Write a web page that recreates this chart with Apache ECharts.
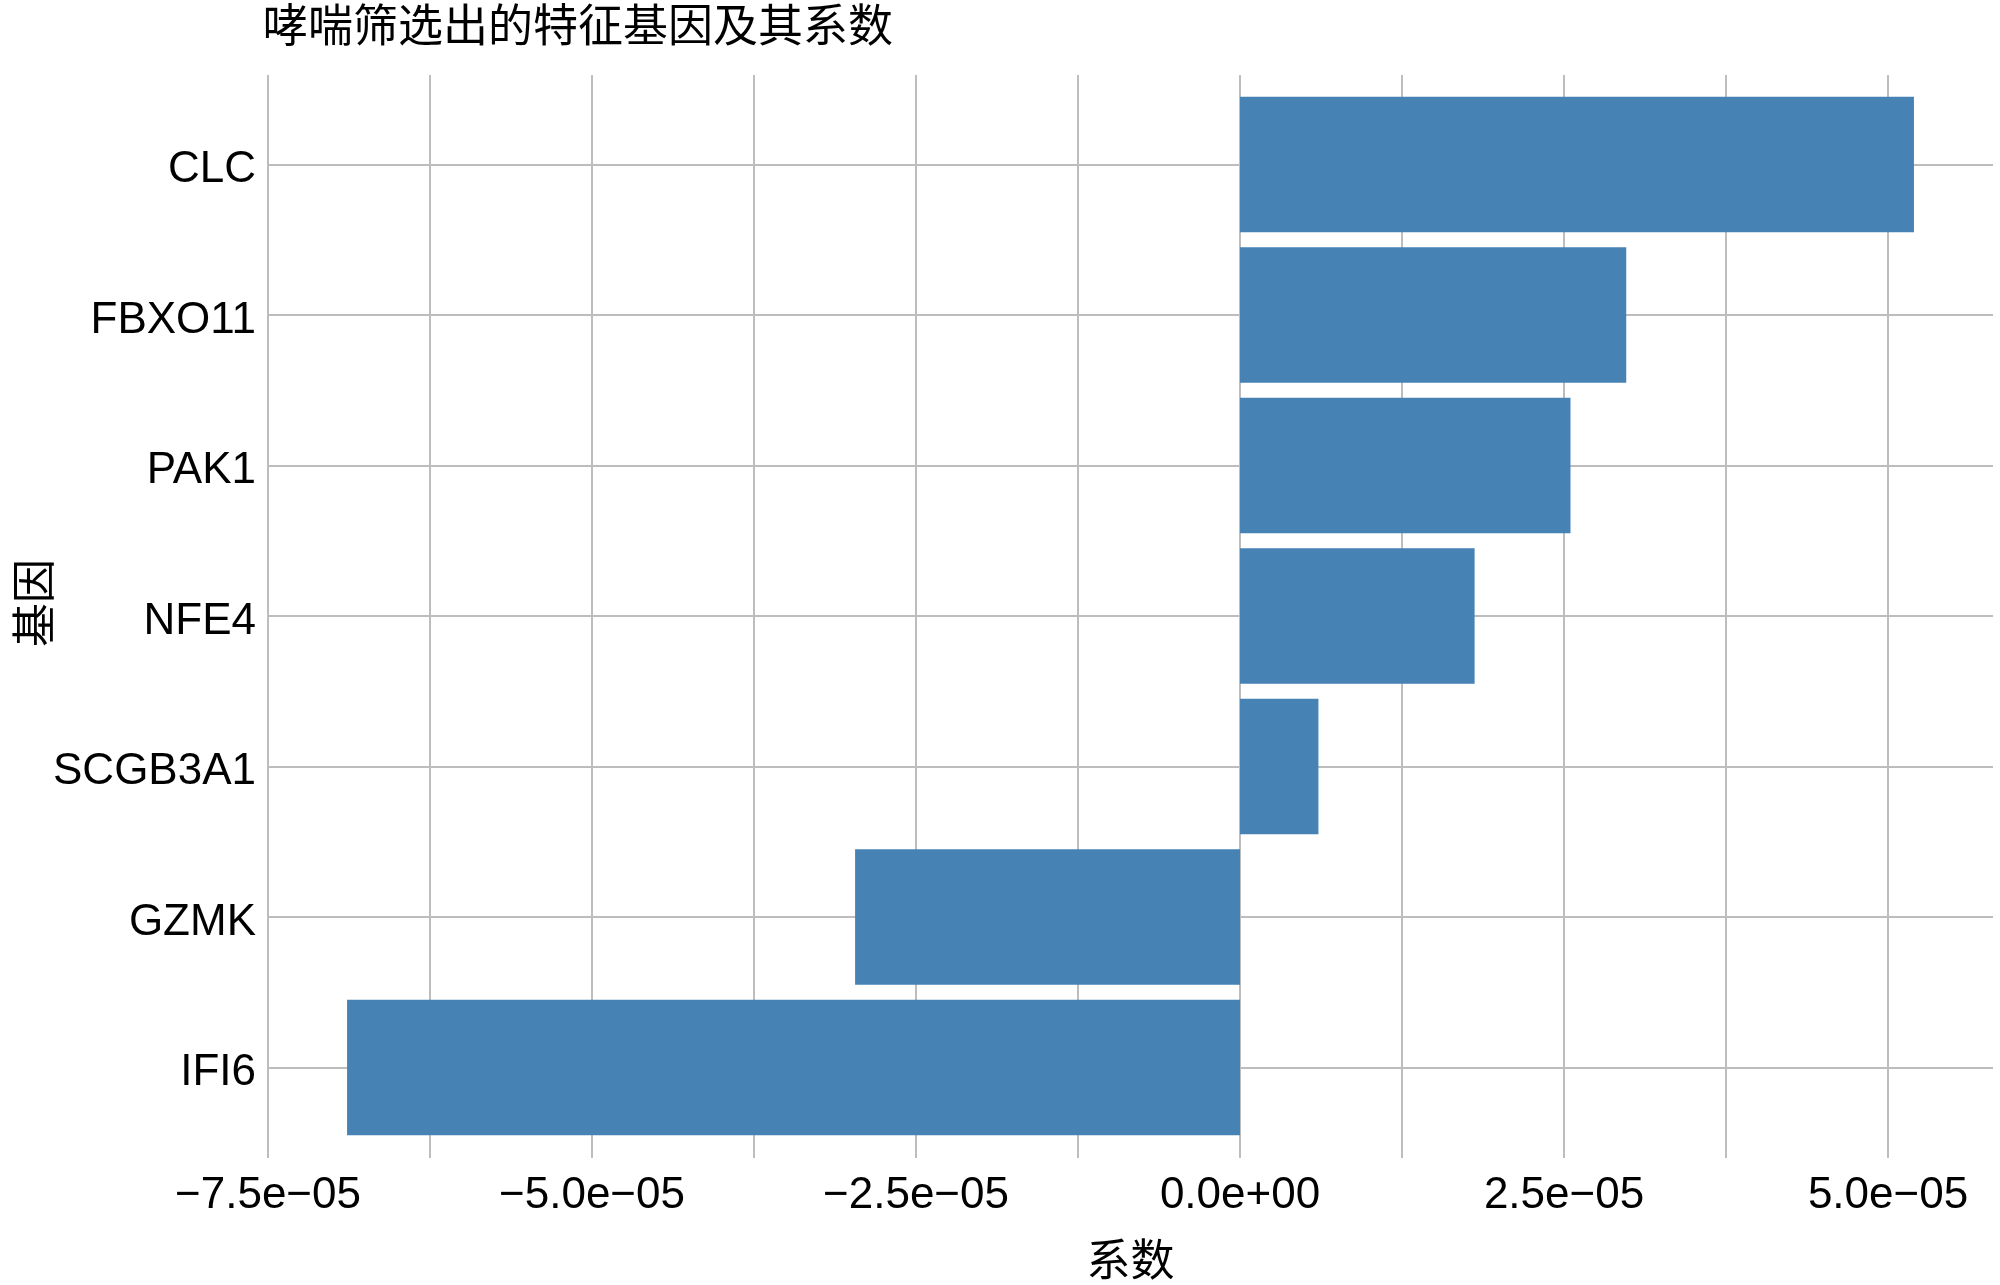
<!DOCTYPE html>
<html>
<head>
<meta charset="utf-8">
<script src="https://cdn.jsdelivr.net/npm/echarts@6.0.0/dist/echarts.min.js"></script>
<style>
  html, body { margin: 0; padding: 0; background: #fff; }
  #chart { width: 2000px; height: 1285px; }
</style>
</head>
<body>
<div id="chart"></div>
<script>
// genes, bottom to top
var genes = ['IFI6', 'GZMK', 'SCGB3A1', 'NFE4', 'PAK1', 'FBXO11', 'CLC'];
var coefs = [-6.89e-05, -2.97e-05, 6.05e-06, 1.81e-05, 2.55e-05, 2.98e-05, 5.20e-05];

var xMin = -7.5e-05;
var xMax = 5.81e-05;
var xStep = 1.25e-05;

var font = "'Liberation Sans', 'Noto Sans CJK SC', sans-serif";
var gridColor = '#bdbdbd';

function fmtTick(v) {
  var k = Math.round(v / xStep);
  if (k % 2 !== 0) return '';
  if (k === 0) return '0.0e+00';
  var m = k * 1.25;
  return (m < 0 ? '\u2212' : '') + Math.abs(m).toFixed(1) + 'e\u221205';
}

var myChart = echarts.init(document.getElementById('chart'));
myChart.setOption({
  animation: false,
  title: {
    text: '哮喘筛选出的特征基因及其系数',
    left: 263,
    top: 7,
    padding: 0,
    textStyle: { fontFamily: font, fontSize: 45, fontWeight: 'normal', color: '#000' }
  },
  grid: [
    // panel (vertical grid lines + x labels)
    { left: 268, right: 7, top: 75, bottom: 127, outerBoundsMode: 'none' },
    // category centers (bars + horizontal grid lines)
    { left: 268, right: 7, top: 164.5, bottom: 217.5, outerBoundsMode: 'none' }
  ],
  xAxis: [
    {
      gridIndex: 0,
      type: 'value',
      min: xMin,
      max: xMax,
      interval: xStep,
      name: '系数',
      nameLocation: 'middle',
      nameGap: 84,
      nameMoveOverlap: false,
      nameTextStyle: { fontFamily: font, fontSize: 44, color: '#000' },
      axisLine: { show: false },
      axisTick: { show: false },
      axisLabel: {
        formatter: fmtTick,
        fontFamily: font,
        fontSize: 44,
        color: '#000',
        margin: 16,
        showMaxLabel: false
      },
      splitLine: { show: true, showMaxLine: false, lineStyle: { color: gridColor, width: 2 } }
    },
    {
      gridIndex: 1,
      type: 'value',
      min: xMin,
      max: xMax,
      interval: xStep,
      show: false
    }
  ],
  yAxis: [
    {
      gridIndex: 0,
      type: 'value',
      show: false
    },
    {
      gridIndex: 1,
      type: 'category',
      data: genes,
      boundaryGap: false,
      name: '基因',
      nameLocation: 'middle',
      nameGap: 208,
      nameMoveOverlap: false,
      nameTextStyle: { fontFamily: font, fontSize: 44, color: '#000', padding: [0, 0, 0, 26] },
      axisLine: { show: false },
      axisTick: { show: false },
      axisLabel: {
        fontFamily: font,
        fontSize: 44,
        color: '#000',
        margin: 12,
        verticalAlign: 'top',
        lineHeight: 11
      },
      splitLine: { show: true, lineStyle: { color: gridColor, width: 2 } }
    }
  ],
  series: [
    {
      name: '系数',
      type: 'bar',
      xAxisIndex: 1,
      yAxisIndex: 1,
      data: coefs,
      barCategoryGap: '10%',
      clip: false,
      itemStyle: { color: '#4682B4' }
    }
  ]
});
</script>
</body>
</html>
